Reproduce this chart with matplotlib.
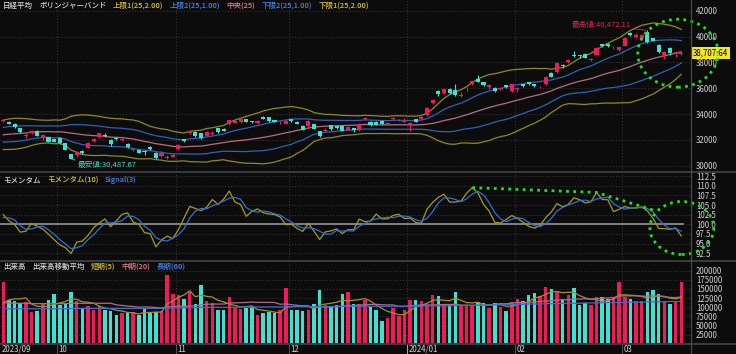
import numpy as np
import pandas as pd
import matplotlib
matplotlib.use("Agg")
import matplotlib.pyplot as plt
from matplotlib.patches import Ellipse
from matplotlib.lines import Line2D

plt.rcParams['font.family'] = ['Noto Sans CJK JP', 'DejaVu Sans']

# 日経平均 日足 2023/09/15 - 2024/03/15
month_labels = ['2023/09', '10', '11', '12', '2024/01', '02', '03']
month_starts = [0, 10, 31, 51, 72, 91, 110]

opens = [33430, 33350, 33200, 32900, 32290, 32560, 32690, 32120, 32200, 32050,
         32110, 31740, 30880, 30800, 31130, 31400, 31880, 32200, 32390, 31990,
         32160, 31960, 31700, 31200, 31240, 31150, 31450, 30990, 30760, 30580,
         30700, 31300, 32060, 32530, 32600, 32520, 32330, 32480, 32900, 32850,
         33250, 33300, 33380, 33600, 33450, 33270, 33800, 33740, 33500, 33290,
         33250, 33600, 33400, 33100, 33050, 33230, 32690, 32680, 33130, 33040,
         33050, 32790, 32900, 32800, 33590, 33400, 33420, 33480, 33260, 33590,
         33500, 33410, 33230, 33590, 33600, 33900, 34820, 35800, 35620, 35950,
         35880, 35400, 35900, 36300, 36750, 36450, 36120, 36050, 35930, 36240,
         35790, 35950, 36320, 36450, 36320, 36060, 36300, 37200, 37250, 37800,
         38040, 38600, 38560, 38650, 38190, 38580, 39420, 39460, 39180, 38960,
         39290, 40240, 39950, 39870, 40370, 39860, 39350, 38580, 39140, 38650,
         38620]
highs = [33634, 33440, 33290, 32950, 32560, 32790, 32730, 32480, 32230, 32180,
         32220, 31780, 30900, 31160, 31200, 31800, 32150, 32540, 32500, 32050,
         32260, 32180, 31750, 31400, 31300, 31250, 31520, 31050, 31110, 30800,
         30950, 31680, 32100, 32790, 32700, 32560, 32710, 32650, 32950, 32900,
         33570, 33700, 33620, 33650, 33480, 33560, 33850, 33780, 33540, 33440,
         33560, 33640, 33460, 33130, 33520, 33250, 32700, 32920, 33150, 33080,
         33100, 33050, 32950, 33290, 33750, 33450, 33460, 33540, 33350, 33750,
         33600, 33670, 33420, 33620, 33990, 34570, 35150, 35840, 36000, 36000,
         36330, 35700, 36100, 36560, 36984, 36480, 36300, 36100, 36120, 36260,
         36330, 36120, 36350, 36500, 36350, 36200, 36940, 37287, 38000, 37850,
         38240, 38865, 38600, 38750, 38310, 39170, 39440, 39500, 39280, 39210,
         39990, 40314, 40250, 40170, 40472.11, 39900, 39400, 38850, 39200, 38850,
         38850]
lows = [33380, 33200, 32950, 32500, 32150, 32480, 32290, 31990, 31800, 31800,
        31700, 31200, 30487.67, 30680, 30900, 31370, 31800, 32140, 32200, 31560,
        31960, 31900, 31380, 31120, 30950, 30850, 31200, 30550, 30700, 30540,
        30650, 31250, 31860, 32450, 32200, 32100, 32280, 32400, 32550, 32650,
        33180, 33280, 33310, 33350, 33300, 33230, 33600, 33420, 33380, 33250,
        33200, 33400, 33200, 32740, 33000, 32820, 32250, 32600, 32800, 32880,
        32650, 32750, 32620, 32700, 33550, 33100, 33150, 33230, 33200, 33550,
        33450, 33380, 32693, 33350, 33580, 33850, 34780, 35380, 35550, 35550,
        35400, 35300, 35800, 36250, 36450, 36150, 35900, 35700, 35850, 36000,
        35700, 35700, 36100, 36250, 36100, 36000, 36250, 36850, 37200, 37600,
        37950, 38400, 38300, 38300, 38100, 38550, 39200, 39200, 39050, 38900,
        39250, 40050, 39900, 39800, 39500, 39650, 38750, 38271, 38600, 38400,
        38550]
closes = [33533, 33242, 33023, 32571, 32402, 32678, 32315, 32372, 31872, 31857,
          31759, 31237, 30526, 31075, 30994, 31746, 32040, 32494, 32315, 31659,
          32040, 32042, 31430, 31259, 30999, 31062, 31269, 30601, 30991, 30697,
          30859, 31601, 31950, 32708, 32272, 32166, 32646, 32568, 32585, 32695,
          33519, 33424, 33585, 33388, 33354, 33451, 33625, 33447, 33408, 33321,
          33486, 33431, 33231, 32775, 33445, 32858, 32307, 32791, 32843, 32926,
          32686, 32970, 32758, 33219, 33675, 33140, 33169, 33254, 33305, 33681,
          33539, 33464, 33288, 33377, 33763, 34441, 35049, 35577, 35901, 35619,
          35477, 35466, 35963, 36546, 36517, 36226, 36236, 35751, 36026, 36065,
          36287, 36011, 36158, 36354, 36160, 36119, 36863, 36897, 37963, 37703,
          38157, 38487, 38470, 38363, 38262, 39098, 39233, 39239, 39208, 39166,
          39910, 40109, 40097, 40090, 39598, 39688, 38820, 38797, 38695, 38807,
          38707.64]
# earlier closes (2023/08/14 - 09/14), only used to start the 25-day band and momentum
closes_before = [32059, 32238, 31766, 31626, 31450, 31565, 31856, 31796, 32287, 31624,
                 32169, 32226, 32333, 32619, 32710, 32939, 33036, 33241, 32991, 32606,
                 32467, 32776, 32706, 33168]

volumes = [169000, 119000, 116000, 112000, 114000, 86000, 89000, 109000, 119000, 136000,
           107000, 110000, 141000, 118000, 98000, 104000, 93000, 103000, 93000, 89000,
           80000, 84000, 84000, 86000, 78000, 98000, 84000, 87000, 89000, 189000,
           137000, 133000, 123000, 141000, 110000, 160000, 118000, 113000, 93000, 93000,
           127000, 98000, 96000, 98000, 100000, 80000, 84000, 86000, 84000, 93000,
           154000, 92000, 92000, 91000, 93000, 109000, 146000, 107000, 101000, 105000,
           136000, 143000, 110000, 109000, 121000, 100000, 92000, 63000, 71000, 98000,
           75000, 92000, 121000, 119000, 116000, 107000, 133000, 132000, 109000, 107000,
           143000, 103000, 105000, 103000, 114000, 112000, 98000, 112000, 100000, 91000,
           114000, 122000, 118000, 134000, 139000, 130000, 155000, 150000, 143000, 123000,
           134000, 154000, 105000, 112000, 107000, 127000, 128000, 123000, 125000, 169000,
           127000, 123000, 118000, 116000, 141000, 146000, 137000, 116000, 109000, 114000,
           169000]
vol_ma5 = [112000, 120000, 123000, 123000, 126000, 109000, 103000, 102000, 103000, 108000,
           112000, 116000, 123000, 122000, 115000, 114000, 111000, 103000, 98000, 96000,
           92000, 90000, 86000, 85000, 82000, 86000, 86000, 87000, 87000, 109000,
           117000, 127000, 134000, 145000, 129000, 133000, 130000, 128000, 119000, 115000,
           109000, 105000, 101000, 102000, 104000, 94000, 92000, 90000, 87000, 85000,
           100000, 102000, 103000, 104000, 104000, 95000, 106000, 109000, 111000, 114000,
           119000, 118000, 119000, 121000, 124000, 117000, 106000, 97000, 89000, 85000,
           80000, 80000, 91000, 101000, 105000, 111000, 119000, 121000, 119000, 118000,
           125000, 119000, 113000, 112000, 114000, 107000, 106000, 108000, 107000, 103000,
           103000, 108000, 109000, 116000, 125000, 129000, 135000, 142000, 143000, 140000,
           141000, 141000, 132000, 126000, 122000, 121000, 116000, 119000, 122000, 134000,
           134000, 133000, 132000, 130000, 124000, 128000, 131000, 130000, 125000, 123000,
           127000]
vol_ma20 = [112000, 112000, 111000, 111000, 111000, 110000, 110000, 110000, 110000, 110000,
            110000, 110000, 111000, 111000, 111000, 111000, 111000, 111000, 111000, 111300,
            106800, 105100, 103500, 102200, 100400, 101000, 100700, 99600, 98100, 100800,
            102300, 103400, 102500, 103700, 104300, 107100, 108300, 108800, 108800, 109000,
            111400, 112100, 112700, 113300, 114400, 113500, 113500, 113400, 113200, 108400,
            109200, 107200, 105600, 103100, 102300, 99700, 101100, 100800, 101200, 101800,
            102300, 104500, 105200, 105800, 106800, 107800, 108200, 107100, 106400, 106700,
            102700, 102700, 104200, 105600, 106700, 106600, 106000, 107200, 107600, 107700,
            108100, 106100, 105800, 105500, 105200, 105800, 106100, 108500, 110000, 109600,
            111600, 113100, 112900, 113700, 114800, 116000, 117100, 118000, 119700, 120500,
            120000, 122600, 122600, 123000, 122700, 123400, 124900, 125500, 126700, 130600,
            131300, 131300, 131300, 130400, 130500, 131300, 130400, 128700, 127000, 126600,
            128300]
vol_ma60 = [96000, 96000, 96000, 96000, 96000, 96000, 96000, 96000, 96000, 96000,
            96000, 96000, 97000, 97000, 97000, 97000, 97000, 97000, 97000, 97000,
            97000, 97000, 97000, 97000, 97000, 97000, 97000, 97000, 97000, 98000,
            98000, 98000, 99000, 99000, 99000, 100000, 100000, 100000, 100000, 100000,
            100000, 100000, 101000, 101000, 101000, 101000, 101000, 101000, 101000, 101000,
            102000, 102000, 102000, 102000, 102000, 102000, 102000, 102000, 102000, 103000,
            103000, 103000, 103000, 103000, 103000, 103000, 103000, 103000, 103000, 103000,
            103000, 103000, 103000, 103000, 103000, 104000, 104000, 104000, 104000, 104000,
            105000, 105000, 105000, 105000, 106000, 106000, 106000, 107000, 107000, 107000,
            108000, 108000, 108000, 109000, 109000, 109000, 110000, 110000, 110000, 111000,
            111000, 111000, 111000, 112000, 112000, 112000, 113000, 113000, 113000, 113000,
            114000, 114000, 114000, 114000, 115000, 115000, 115000, 115000, 116000, 116000,
            116000]

BG = '#0c0c0c'
UP = '#f2185c'
DOWN = '#3ee0d2'
GRID = '#3a3a3a'
LABEL = '#d0d0d0'
YEL = '#d8c428'
BLUE = '#4488ee'
PINK = '#f07890'

n = len(closes)
x = np.arange(n)
o = np.array(opens)
c = np.array(closes)
colors = np.where(c >= o, UP, DOWN)

# bollinger band (25) and momentum (10) from the closes
s = pd.Series(closes_before + closes)
mid = s.rolling(25).mean().to_numpy()[-n:]
sd = s.rolling(25).std(ddof=0).to_numpy()[-n:]
mom_all = s / s.shift(10) * 100
signal = mom_all.rolling(3).mean().to_numpy()[-n:]
mom = mom_all.to_numpy()[-n:]

W, H = 736, 354
fig = plt.figure(figsize=(W / 100, H / 100), dpi=100, facecolor=BG)


def panel(top, bottom):
    ax = fig.add_axes([0, 1 - bottom / H, 691 / W, (bottom - top) / H])
    ax.set_facecolor(BG)
    for sp in ax.spines.values():
        sp.set_visible(False)
    ax.set_xlim(-0.58, 121.72)
    ax.set_xticks([])
    ax.yaxis.tick_right()
    ax.tick_params(axis='y', length=0, pad=3.6, labelsize=5.7, labelcolor=LABEL)
    ax.grid(axis='y', linestyle=(0, (1, 2)), color=GRID, linewidth=0.7)
    for b in month_starts[1:]:
        ax.axvline(b - 0.5, linestyle=(0, (1, 2)), color=GRID, linewidth=0.7, zorder=0)
    return ax


def legend_row(ax, y, parts):
    t = ax.text(0.0045, y, parts[0][0], color=parts[0][1], fontsize=5.4,
                transform=ax.transAxes, va='center', ha='left', fontweight='medium')
    for label, col in parts[1:]:
        t = ax.annotate(label, xy=(1, 0.5), xycoords=t, xytext=(4.5, 0),
                        textcoords='offset points', color=col, fontsize=5.4,
                        va='center', ha='left', fontweight='medium')


ax1 = panel(1, 171)
ax2 = panel(173, 260)
ax3 = panel(262, 344)

# price panel
ax1.set_ylim(29590, 42751)
ax1.set_yticks(range(30000, 42001, 2000))
ax1.set_yticklabels([str(v) for v in range(30000, 42001, 2000)])
ax1.plot(x, mid + 2 * sd, color='#8f8a1e', lw=0.9, zorder=2)
ax1.plot(x, mid - 2 * sd, color='#8f8a1e', lw=0.9, zorder=2)
ax1.plot(x, mid + sd, color='#2c62b8', lw=0.9, zorder=2)
ax1.plot(x, mid - sd, color='#2c62b8', lw=0.9, zorder=2)
ax1.plot(x, mid, color='#b86c80', lw=0.9, zorder=2)
ax1.vlines(x, lows, highs, colors=colors, lw=0.8, zorder=3)
ax1.bar(x, np.maximum(np.abs(c - o), 45), bottom=np.minimum(o, c), width=0.72,
        color=colors, linewidth=0, zorder=4)

legend_row(ax1, 0.971, [('日経平均', '#d8d8d8'), ('ボリンジャーバンド', '#d8d8d8'),
                        ('上限1(25,2.00)', YEL), ('上限2(25,1.00)', BLUE),
                        ('中央(25)', PINK), ('下限2(25,1.00)', BLUE),
                        ('下限1(25,2.00)', YEL)])

hi = int(np.argmax(highs))
lo = int(np.argmin(lows))
ax1.annotate(f'最高値:{highs[hi]:,.2f}', xy=(hi, highs[hi]), xytext=(-12, 4),
             textcoords='offset points', ha='right', va='center', fontsize=5.5,
             color='#e8205a', arrowprops=dict(arrowstyle='-', color='#e8205a', lw=0.6,
                                              shrinkA=0, shrinkB=1))
ax1.annotate(f'最安値:{lows[lo]:,.2f}', xy=(lo, lows[lo]), xytext=(5, -3.5),
             textcoords='offset points', ha='left', va='center', fontsize=5.5,
             color='#40d8c8', arrowprops=dict(arrowstyle='-', color='#40d8c8', lw=0.6,
                                              shrinkA=0, shrinkB=1))
ax1.text(1.003, closes[-1], f'{closes[-1]:,.2f}', transform=ax1.get_yaxis_transform(),
         ha='left', va='center', fontsize=5.7, color='black', clip_on=False,
         bbox=dict(facecolor='#f3e622', edgecolor='none', pad=1.0))
ax1.add_patch(Ellipse((n - 1.6, closes[-1]), 14.2, 5263, fill=False, edgecolor='#22dd22',
                      linestyle=(0, (1, 1.6)), lw=2.0, clip_on=False, zorder=6))

# momentum panel
ax2.set_ylim(90.77, 113.28)
mticks = np.arange(92.5, 112.6, 2.5)
ax2.set_yticks(mticks)
ax2.set_yticklabels([f'{v:.1f}' for v in mticks])
ax2.hlines(100, -0.58, n - 0.5, color='#8a8a8a', lw=1.3, zorder=2)
ax2.plot(x, mom, color='#a89a20', lw=0.9, zorder=3)
ax2.plot(x, signal, color='#3070d0', lw=0.9, zorder=3)
ax2.plot([83, 105, 115], [mom[83], mom[105], 103.7], color='#22dd22',
         linestyle=(0, (1, 1.6)), lw=2.0, zorder=5)
ax2.add_patch(Ellipse((n - 0.9, 99.05), 11.3, 13.7, fill=False, edgecolor='#22dd22',
                      linestyle=(0, (1, 1.6)), lw=2.0, clip_on=False, zorder=6))
legend_row(ax2, 0.92, [('モメンタム', '#d8d8d8'), ('モメンタム(10)', YEL),
                       ('Signal(3)', BLUE)])

# volume panel
ax3.set_ylim(0, 223600)
vticks = list(range(25000, 200001, 25000))
ax3.set_yticks(vticks)
ax3.set_yticklabels([str(v) for v in vticks])
ax3.bar(x, volumes, width=0.62, color=colors, linewidth=0, zorder=2)
ax3.plot(x, vol_ma5, color='#a09228', lw=0.9, zorder=3)
ax3.plot(x, vol_ma20, color='#b06c88', lw=0.9, zorder=3)
ax3.plot(x, vol_ma60, color='#3a6ed0', lw=0.9, zorder=3)
legend_row(ax3, 0.939, [('出来高', '#d8d8d8'), ('出来高移動平均', '#d8d8d8'),
                        ('短期(5)', YEL), ('中期(20)', PINK), ('長期(60)', BLUE)])

# month labels under the volume panel
xt = ax3.get_xaxis_transform()
for st, lab in zip(month_starts, month_labels):
    ax3.text(st - 0.5 + 0.3, -0.067, lab, transform=xt, ha='left', va='center',
             fontsize=5.7, color=LABEL, clip_on=False)
    if st > 0:
        ax3.plot([st - 0.5, st - 0.5], [0, -0.125], transform=xt, clip_on=False,
                 color='#aaaaaa' if lab.startswith('20') else '#555555', lw=0.7)

# panel frames
for yy in (172, 261, 344):
    fig.add_artist(Line2D([0, 1], [1 - yy / H] * 2, color='#3c3c3c', lw=1.4,
                          transform=fig.transFigure))
fig.add_artist(Line2D([691 / W] * 2, [0, 1], color='#4a4a4a', lw=0.9,
                      transform=fig.transFigure))

fig.savefig('out.png', dpi=100, facecolor=BG)
